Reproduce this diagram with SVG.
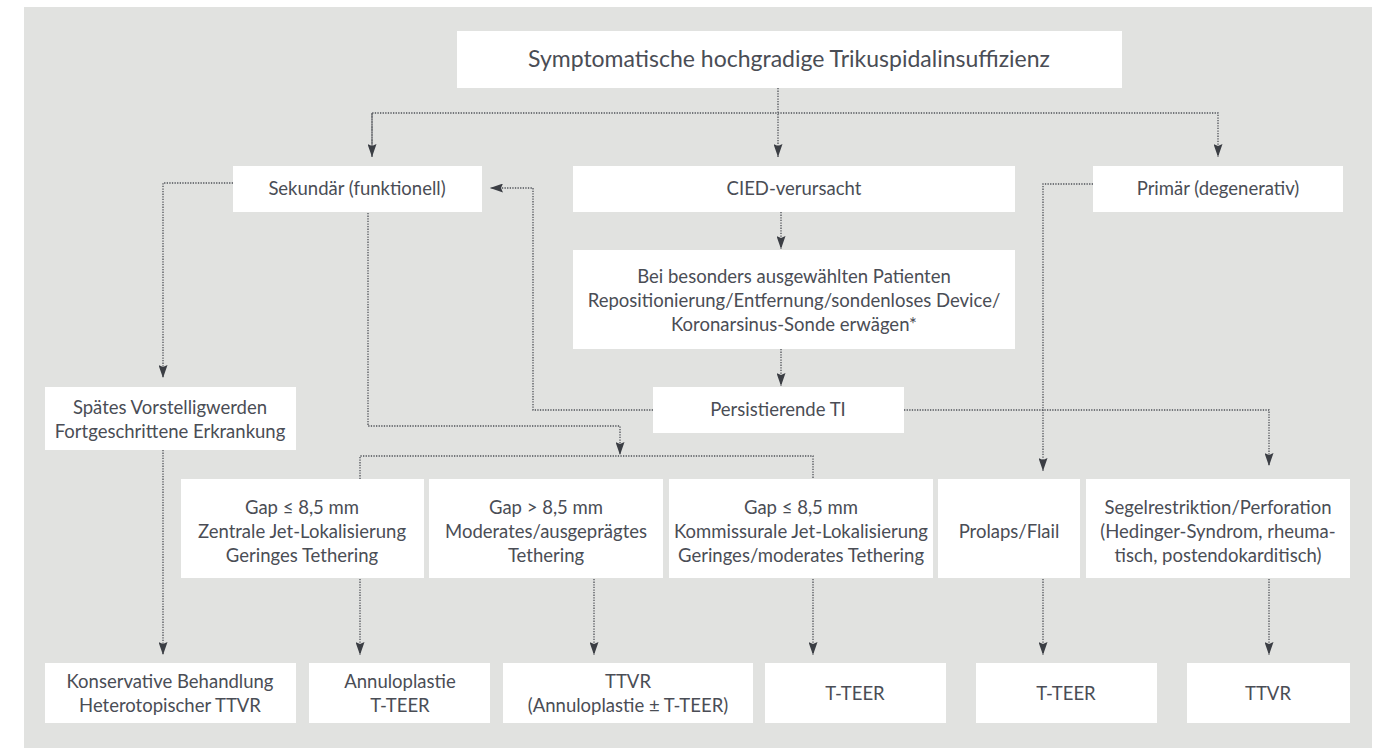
<svg xmlns="http://www.w3.org/2000/svg" width="1383" height="748" viewBox="0 0 1383 748">
<defs>
<style>
.bg{fill:#e1e2e0}
.box{fill:#ffffff}
.t{font-family:Lato,"Liberation Sans",sans-serif;font-size:18.5px;fill:#4a4d55;text-anchor:middle}
.tt{font-size:23px}
.c{fill:none;stroke:#4e5157;stroke-width:1.3;stroke-dasharray:1.3 1.3}
</style>
<marker id="ah" viewBox="0 0 13 9" refX="13" refY="4.5" markerWidth="13" markerHeight="9" markerUnits="userSpaceOnUse" orient="auto">
<path d="M0,0 L13,4.5 L0,9 L2,4.5 Z" fill="#3b3e44"/>
</marker>
</defs>
<rect x="0" y="0" width="1383" height="748" fill="#ffffff"/>
<rect class="bg" x="24" y="7" width="1348" height="741"/>

<g id="connectors">
<path class="c" d="M778,88 V157" marker-end="url(#ah)"/>
<path class="c" d="M372,157 V113 H1218 V157" marker-end="url(#ah)"/>
<path class="c" d="M372,113 V157" marker-end="url(#ah)"/>
<path class="c" d="M233,183 H163 V378" marker-end="url(#ah)"/>
<path class="c" d="M368,213 V426 H620 V455" marker-end="url(#ah)"/>
<path class="c" d="M360,479 V456 H813 V479"/>
<path class="c" d="M653,410 H533 V188 H490" marker-end="url(#ah)"/>
<path class="c" d="M781,212 V249" marker-end="url(#ah)"/>
<path class="c" d="M781,349 V386" marker-end="url(#ah)"/>
<path class="c" d="M904,410 H1269 V466" marker-end="url(#ah)"/>
<path class="c" d="M1093,184 H1043 V471" marker-end="url(#ah)"/>
<path class="c" d="M163,450 V655" marker-end="url(#ah)"/>
<path class="c" d="M360,579 V655" marker-end="url(#ah)"/>
<path class="c" d="M594,579 V655" marker-end="url(#ah)"/>
<path class="c" d="M813,579 V655" marker-end="url(#ah)"/>
<path class="c" d="M1043,579 V655" marker-end="url(#ah)"/>
<path class="c" d="M1269,579 V655" marker-end="url(#ah)"/>
</g>

<g id="n-top"><rect class="box" x="457" y="31" width="665" height="57"/><text class="t tt" x="789" y="67">Symptomatische hochgradige Trikuspidalinsuffizienz</text></g>

<g id="n-sekundaer"><rect class="box" x="233" y="166" width="249" height="46"/><text class="t" x="357" y="195">Sekundär (funktionell)</text></g>
<g id="n-cied"><rect class="box" x="573" y="166" width="442" height="46"/><text class="t" x="794" y="195">CIED-verursacht</text></g>
<g id="n-primaer"><rect class="box" x="1093" y="166" width="250" height="46"/><text class="t" x="1218" y="195">Primär (degenerativ)</text></g>

<g id="n-bei"><rect class="box" x="573" y="250" width="442" height="99"/>
<text class="t" x="794" y="283">Bei besonders ausgewählten Patienten</text>
<text class="t" x="794" y="307">Repositionierung/Entfernung/sondenloses Device/</text>
<text class="t" x="794" y="331">Koronarsinus-Sonde erwägen*</text></g>

<g id="n-persist"><rect class="box" x="653" y="387" width="251" height="46"/><text class="t" x="778" y="416">Persistierende TI</text></g>

<g id="n-spaet"><rect class="box" x="45" y="387" width="251" height="63"/>
<text class="t" x="170" y="414">Spätes Vorstelligwerden</text>
<text class="t" x="170" y="438">Fortgeschrittene Erkrankung</text></g>

<g id="n-gap1"><rect class="box" x="181" y="479" width="243" height="99"/>
<text class="t" x="302" y="514">Gap ≤ 8,5 mm</text>
<text class="t" x="302" y="538">Zentrale Jet-Lokalisierung</text>
<text class="t" x="302" y="562">Geringes Tethering</text></g>

<g id="n-gap2"><rect class="box" x="429" y="479" width="234" height="99"/>
<text class="t" x="546" y="514">Gap &gt; 8,5 mm</text>
<text class="t" x="546" y="538">Moderates/ausgeprägtes</text>
<text class="t" x="546" y="562">Tethering</text></g>

<g id="n-gap3"><rect class="box" x="669" y="479" width="264" height="99"/>
<text class="t" x="801" y="514">Gap ≤ 8,5 mm</text>
<text class="t" x="801" y="538">Kommissurale Jet-Lokalisierung</text>
<text class="t" x="801" y="562">Geringes/moderates Tethering</text></g>

<g id="n-prolaps"><rect class="box" x="938" y="479" width="142" height="99"/>
<text class="t" x="1009" y="538">Prolaps/Flail</text></g>

<g id="n-segel"><rect class="box" x="1086" y="479" width="264" height="99"/>
<text class="t" x="1218" y="514">Segelrestriktion/Perforation</text>
<text class="t" x="1218" y="538">(Hedinger-Syndrom, rheuma-</text>
<text class="t" x="1218" y="562">tisch, postendokarditisch)</text></g>

<g id="n-konservativ"><rect class="box" x="45" y="663" width="251" height="60"/>
<text class="t" x="170" y="688">Konservative Behandlung</text>
<text class="t" x="170" y="712">Heterotopischer TTVR</text></g>

<g id="n-annulo"><rect class="box" x="309" y="663" width="181" height="60"/>
<text class="t" x="400" y="688">Annuloplastie</text>
<text class="t" x="400" y="712">T-TEER</text></g>

<g id="n-ttvr1"><rect class="box" x="503" y="663" width="250" height="60"/>
<text class="t" x="628" y="688">TTVR</text>
<text class="t" x="628" y="712">(Annuloplastie ± T-TEER)</text></g>

<g id="n-teer1"><rect class="box" x="765" y="663" width="181" height="60"/>
<text class="t" x="855" y="700">T-TEER</text></g>

<g id="n-teer2"><rect class="box" x="976" y="663" width="181" height="60"/>
<text class="t" x="1066" y="700">T-TEER</text></g>

<g id="n-ttvr2"><rect class="box" x="1187" y="663" width="163" height="60"/>
<text class="t" x="1268" y="700">TTVR</text></g>
</svg>
